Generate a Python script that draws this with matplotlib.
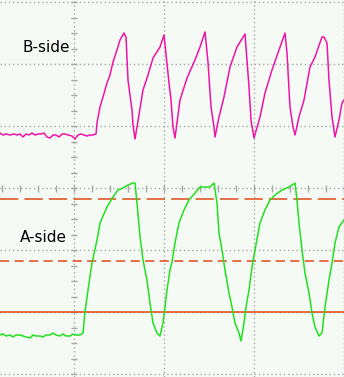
import numpy as np
import matplotlib
matplotlib.use("Agg")
import matplotlib.pyplot as plt

# sample index (0..344) and level in counts (62 counts = 1 division, 0 = screen centre)
b_t = [0, 3, 6, 10, 14, 17, 20, 23, 26, 29, 32, 35, 38, 41, 44, 47, 50, 53, 56, 59,
       62, 65, 68, 72, 75, 78, 81, 84, 87, 90, 93, 96,
       97, 100, 103, 107, 110, 113, 117, 120, 124, 126, 128, 132, 133, 135, 137, 143,
       148, 153, 160, 164, 169, 171, 173, 175, 180, 187, 195, 200, 205, 208, 211, 214,
       215, 219, 224, 230, 237, 245, 249, 251, 254, 260, 265, 272, 279, 285, 287, 290,
       293, 295, 299, 304, 310, 315, 322, 324, 327, 329, 332, 335, 339, 342, 344]
b_v = [55, 53, 54, 53, 54, 53, 54, 51, 54, 53, 55, 53, 54, 54, 55, 51, 50, 53, 53, 51,
       54, 54, 53, 52, 49, 53, 54, 53, 52, 53, 53, 54,
       65, 81, 91, 105, 113, 126, 138, 148, 155, 151, 108, 78, 63, 49, 61, 98,
       113, 130, 141, 153, 105, 88, 61, 50, 88, 110, 128, 141, 156, 126, 81, 61,
       51, 71, 91, 121, 141, 154, 101, 68, 50, 71, 95, 118, 138, 155, 135, 81,
       61, 53, 71, 88, 121, 131, 151, 151, 145, 108, 71, 51, 68, 85, 88]

a_t = [0, 3, 6, 10, 13, 16, 20, 23, 26, 30, 33, 36, 40, 43, 46, 50, 53, 56, 60, 63,
       66, 70, 73, 76, 80, 83,
       85, 88, 92, 97, 100, 107, 113, 118, 123, 128, 133, 135, 137, 140, 143, 147,
       150, 153, 157, 160, 163, 165, 167, 170, 172, 175, 179, 184, 189, 195, 200, 210,
       214, 217, 219, 222, 225, 229, 232, 235, 239, 241, 244, 246, 249, 252, 255, 260,
       265, 270, 275, 282, 289, 295, 297, 299, 302, 305, 309, 312, 315, 319, 322, 325,
       329, 332, 335, 339, 344]
a_v = [-147, -146, -148, -147, -149, -147, -147, -148, -149, -150, -147, -148, -148,
       -149, -147, -147, -145, -147, -148, -146, -148, -148, -146, -147, -147, -145,
       -124, -102, -75, -52, -35, -19, -9, -2, 0, 3, 5, 5, -15, -49, -72, -92,
       -115, -135, -145, -148, -135, -119, -102, -82, -74, -55, -35, -22, -12, -5, 1, 1,
       5, -15, -45, -62, -82, -105, -119, -135, -145, -153, -135, -119, -102, -79, -62, -35,
       -22, -12, -7, -2, 1, 5, -12, -35, -62, -85, -105, -125, -139, -148, -145, -119,
       -92, -75, -55, -39, -32]

# cursor levels on the A-side trace
cursor_hi = -11
cursor_mid = -73
cursor_lo = -124

bg = "#f5faf5"
grid_c = "#a9a9a9"
pink = "#ee14a8"
green = "#22e01e"
cursor_c = "#e04a18"

fig = plt.figure(figsize=(3.44, 3.77), dpi=100)
fig.patch.set_facecolor(bg)
ax = fig.add_axes([0, 0, 1, 1])
ax.set_facecolor(bg)
ax.set_xlim(0, 344)
ax.set_ylim(-189, 188)
ax.axis("off")

# graticule
for x in [74, 164, 254, 344]:
    ax.axvline(x, color=grid_c, lw=1, ls=(0, (1, 2)), zorder=1)
for y in [186, 124, 62, 0, -62, -124, -186]:
    ax.axhline(y, color=grid_c, lw=1, ls=(0, (1, 2)), zorder=1)
xt = np.arange(74 - 4 * 18, 345, 18)
ax.vlines(xt, -3.5, 3.5, color=grid_c, lw=1, zorder=1)
yt = np.arange(-186, 187, 15.5)
ax.hlines(yt, 71, 77, color=grid_c, lw=1, zorder=1)

# cursors
ax.axhline(cursor_hi, color=cursor_c, lw=1.1, ls=(0, (12, 4)), zorder=2)
ax.axhline(cursor_mid, color=cursor_c, lw=1.1, ls=(0, (6, 3.5)), zorder=2)
ax.axhline(cursor_lo, color=cursor_c, lw=1.1, zorder=2)

ax.plot(b_t, b_v, color=pink, lw=1.1, zorder=3)
ax.plot(a_t, a_v, color=green, lw=1.1, zorder=3)

ax.text(23, 141, "B-side", fontsize=11, va="center", ha="left", color="black")
ax.text(20, -50, "A-side", fontsize=11, va="center", ha="left", color="black")

fig.savefig("out.png", dpi=100, facecolor=bg)
